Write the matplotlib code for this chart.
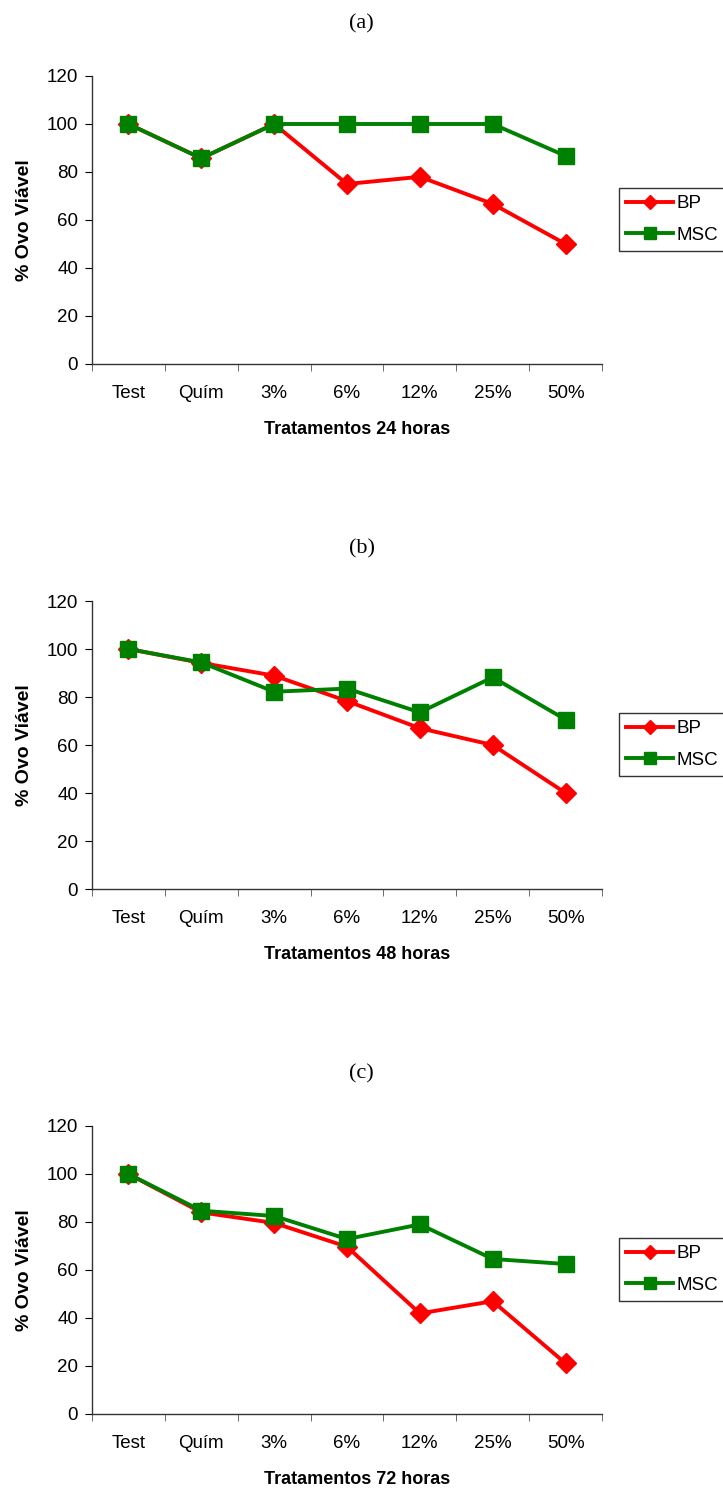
import numpy as np
import matplotlib.pyplot as plt
from matplotlib.ticker import FixedLocator

plt.rcParams['font.family'] = ['Liberation Sans', 'DejaVu Sans']

categorias = ['Test', 'Quím', '3%', '6%', '12%', '25%', '50%']

# (a) 24 horas
bp_24 = [100, 85.7, 100, 75, 78, 66.7, 50]
msc_24 = [100, 85.7, 100, 100, 100, 100, 86.7]
# (b) 48 horas
bp_48 = [100, 94.2, 88.9, 78.3, 67, 60, 40]
msc_48 = [100, 94.4, 82.2, 83.5, 73.6, 88.2, 70.6]
# (c) 72 horas
bp_72 = [100, 84, 79.6, 69.7, 41.9, 47, 21.1]
msc_72 = [100, 84.7, 82.5, 72.9, 79, 64.6, 62.5]

paineis = [('(a)', 'Tratamentos 24 horas', bp_24, msc_24),
           ('(b)', 'Tratamentos 48 horas', bp_48, msc_48),
           ('(c)', 'Tratamentos 72 horas', bp_72, msc_72)]

W, H = 723, 1489
fig = plt.figure(figsize=(W / 100, H / 100), dpi=100)

tops = [76, 601, 1126]
titulo_y = [24, 549, 1074]
left, right, alt = 92, 602, 288

for (tit, xlab, bp, msc), top, ty in zip(paineis, tops, titulo_y):
    ax = fig.add_axes([left / W, 1 - (top + alt) / H, (right - left) / W, alt / H])
    x = np.arange(len(categorias))
    ax.plot(x, bp, '-D', color='#FF0000', lw=2.8, ms=10, label='BP', clip_on=False)
    ax.plot(x, msc, '-s', color='#008000', lw=2.8, ms=11.5, label='MSC', clip_on=False)
    ax.set_xlim(-0.5, 6.5)
    ax.set_ylim(0, 120)
    ax.set_yticks(np.arange(0, 121, 20))
    ax.set_xticks(x)
    ax.set_xticklabels(categorias, va='center')
    ax.xaxis.set_minor_locator(FixedLocator(np.arange(-0.5, 7, 1)))
    ax.tick_params(axis='x', which='major', length=0, pad=21, labelsize=13.5)
    ax.tick_params(axis='x', which='minor', length=5, direction='out', color='#555555')
    ax.tick_params(axis='y', length=5, direction='out', labelsize=13.5, pad=5)
    for s in ['top', 'right']:
        ax.spines[s].set_visible(False)
    for s in ['left', 'bottom']:
        ax.spines[s].set_color('#333333')
        ax.spines[s].set_linewidth(1)
    ax.set_xlabel(xlab, fontsize=13, fontweight='bold', va='center')
    ax.xaxis.set_label_coords(0.52, -0.228)
    ax.set_ylabel('% Ovo Viável', fontsize=14, fontweight='bold', va='center')
    ax.yaxis.set_label_coords(-0.133, 0.5)
    fig.text(0.5, 1 - ty / H, tit, ha='center', va='center', fontsize=16,
             family=['Liberation Serif', 'DejaVu Serif'])
    leg = ax.legend(loc='upper left', bbox_to_anchor=(1.033, 0.612), frameon=True,
                    fancybox=False, edgecolor='black', fontsize=13.5,
                    handlelength=2.5, handletextpad=0.2, borderpad=0.4,
                    labelspacing=0.75, borderaxespad=0, markerscale=0.75)
    leg.get_frame().set_linewidth(1)

plt.savefig('out.png', dpi=100)
